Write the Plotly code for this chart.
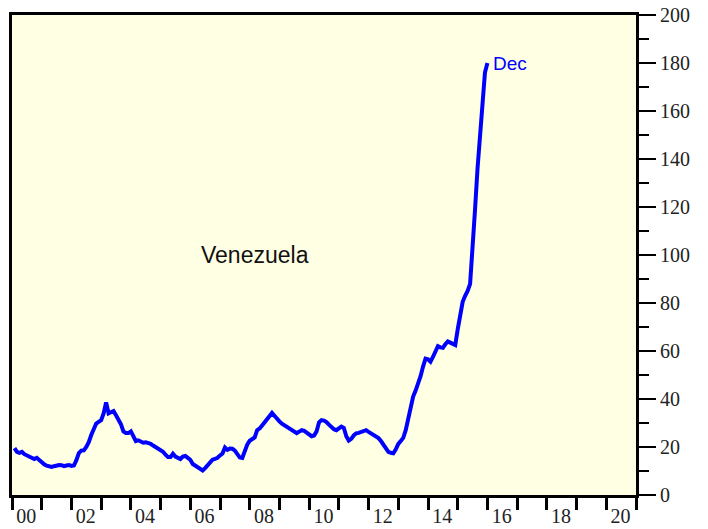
import plotly.graph_objects as go

# Monthly values, Jan 2000 .. Dec 2015
v2000 = [19.5, 18, 17.6, 18, 17, 16.5, 16, 15.5, 15, 15.5, 14.5, 13.8]
v2001 = [12.8, 12.2, 11.8, 11.7, 12, 12.3, 12.5, 12.4, 12, 12.3, 12.5, 12.1]
v2002 = [12.3, 14.5, 17.5, 18.5, 18.6, 20, 22, 25, 28, 29.8, 30.5, 31.2]
v2003 = [34, 38.6, 34, 34.6, 35, 33.2, 31.5, 29.5, 26.5, 25.8, 25.8, 26.5]
v2004 = [24.5, 22.5, 22.8, 22.3, 21.8, 22, 21.8, 21.3, 20.6, 20, 19.5, 19]
v2005 = [18, 16.8, 15.8, 15.8, 17.2, 16, 15.4, 15, 16, 16.3, 15.5, 14.7]
v2006 = [12.9, 12.2, 11.6, 11.2, 10.2, 11.2, 12.3, 13.9, 14.7, 15.1, 15.5, 16.5]
v2007 = [17.3, 19.8, 18.8, 19.4, 19.3, 18.5, 17.2, 15.6, 15.4, 18.5, 21, 22.6]
v2008 = [23.2, 24, 27, 27.7, 29, 30.3, 31.6, 33.4, 34.2, 33, 31.5, 30.7]
v2009 = [29.7, 29, 28.2, 28, 27, 26.2, 25.8, 26.4, 27, 26.7, 26, 25.1]
v2010 = [24.5, 24.8, 26.5, 30.3, 31.2, 31, 30.4, 29.3, 28.2, 27.4, 27, 27.8]
v2011 = [28.5, 28, 24.5, 22.7, 23.4, 24.8, 25.7, 25.9, 26.2, 26.6, 27, 26.3]
v2012 = [25.6, 25.1, 24.5, 23.7, 22.5, 21, 18.9, 18, 17.6, 17.4, 19, 21.3]
v2013 = [22.5, 23.8, 27, 31.8, 36.5, 41, 43.5, 46, 49.5, 53.5, 56.8, 56.5]
v2014 = [55.5, 57.5, 60, 62, 61.5, 61.3, 62.8, 64, 63.5, 63, 62.5, 69]
v2015 = [76, 80.5, 83, 85, 88, 101, 119, 136, 151, 165, 176, 180]

years = list(range(2000, 2016))
yearly = [v2000, v2001, v2002, v2003, v2004, v2005, v2006, v2007,
          v2008, v2009, v2010, v2011, v2012, v2013, v2014, v2015]

x_tick_years = list(range(2000, 2022))
label_years = list(range(2000, 2021, 2))
label_text = ["00", "02", "04", "06", "08", "10", "12", "14", "16", "18", "20"]

# Build time axis (end-of-month fractional years)
xs, ys = [], []
for yr, vals in zip(years, yearly):
    for m, v in enumerate(vals):
        xs.append(yr + (m + 1) / 12)
        ys.append(v)

fig = go.Figure()
fig.add_trace(go.Scatter(x=xs, y=ys, mode="lines",
                         line=dict(color="#0000FF", width=4),
                         showlegend=False, hoverinfo="skip"))

fig.add_annotation(x=xs[-1], y=ys[-1], text="Dec", showarrow=False,
                   xanchor="left", yanchor="middle", xshift=4,
                   font=dict(family="Liberation Sans, Arial", size=19, color="#0000FF"))
fig.add_annotation(x=2008.17, y=100, text="Venezuela", showarrow=False,
                   xanchor="center", yanchor="middle",
                   font=dict(family="Liberation Sans, Arial", size=23, color="#111111"))

fig.update_layout(
    width=708, height=529,
    margin=dict(l=12, r=72, t=15, b=34, autoexpand=False),
    paper_bgcolor="white",
    plot_bgcolor="#FFFFE4",
    font=dict(family="Liberation Serif, Times New Roman", size=20, color="#222222"),
    xaxis=dict(
        range=[2000, 2021], showgrid=False, zeroline=False, automargin=False,
        showline=True, linecolor="black", linewidth=3, mirror=True,
        tickmode="array",
        tickvals=[y + 0.48 for y in label_years], ticktext=label_text,
        ticks="", ticklabelstandoff=1,
        minor=dict(tickmode="array", tickvals=x_tick_years, ticks="outside",
                   ticklen=12, tickwidth=2.5, tickcolor="black", showgrid=False),
    ),
    yaxis=dict(
        range=[0, 200], side="right", showgrid=False, zeroline=False, automargin=False,
        showline=True, linecolor="black", linewidth=3, mirror=True,
        tickmode="linear", tick0=0, dtick=20,
        ticks="outside", ticklen=17, tickwidth=2, tickcolor="black",
        minor=dict(dtick=10, ticks="outside", ticklen=10, tickwidth=2,
                   tickcolor="black", showgrid=False),
    ),
)

fig.write_html("out.html", config={"displayModeBar": False},
               post_script="document.body.style.margin='0px';document.body.style.overflow='hidden';")
